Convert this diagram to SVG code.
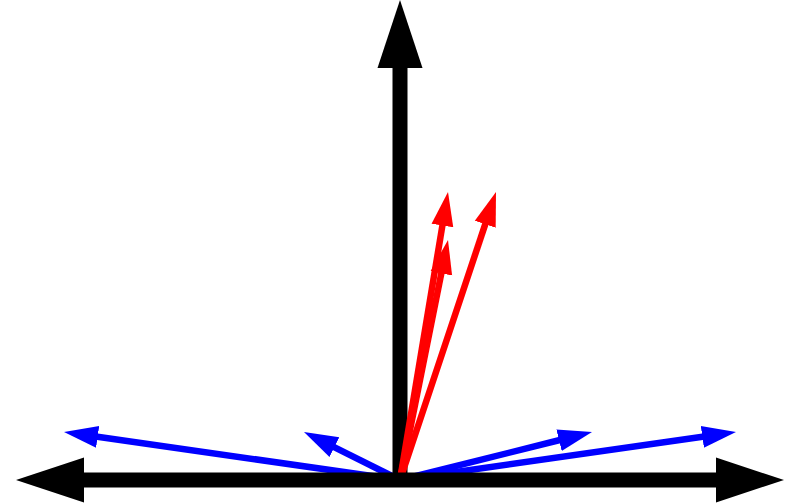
<svg xmlns="http://www.w3.org/2000/svg" width="792" height="504" viewBox="0 0 792 504">
  <defs>
    <style>
      .axis { stroke: #000; stroke-width: 15; fill: none; }
      .axhead { fill: #000; }
      .blue { stroke: #0000ff; stroke-width: 6.5; fill: none; marker-end: url(#bh); }
      .red { stroke: #ff0000; stroke-width: 6.5; fill: none; marker-end: url(#rh); }
    </style>
    <marker id="bh" markerUnits="userSpaceOnUse" markerWidth="40" markerHeight="30" viewBox="0 -15 40 30" refX="2" refY="0" orient="auto">
      <path d="M0,-11 L34,0 L0,11 Z" fill="#0000ff"/>
    </marker>
    <marker id="rh" markerUnits="userSpaceOnUse" markerWidth="40" markerHeight="30" viewBox="0 -15 40 30" refX="2" refY="0" orient="auto">
      <path d="M0,-11 L34,0 L0,11 Z" fill="#ff0000"/>
    </marker>
  </defs>
  <rect width="792" height="504" fill="#fff"/>
  <g id="y-axis">
    <line class="axis" x1="400" y1="480" x2="400" y2="64"/>
    <polygon class="axhead" points="377.5,68 400,0 422.5,68"/>
  </g>
  <g id="vectors">
    <line class="blue" x1="400" y1="480" x2="95.68" y2="436.53"/>
    <line class="blue" x1="400" y1="480" x2="332.62" y2="446.31"/>
    <line class="blue" x1="400" y1="480" x2="560.96" y2="439.76"/>
    <line class="blue" x1="400" y1="480" x2="704.32" y2="436.53"/>
    <line class="red" x1="400" y1="480" x2="442.74" y2="223.56"/>
    <line class="red" x1="400" y1="480" x2="485.88" y2="222.36"/>
    <line class="red" x1="400" y1="480" x2="441.72" y2="271.38"/>
  </g>
  <g id="x-axis">
    <line class="axis" x1="80" y1="480" x2="720" y2="480"/>
    <polygon class="axhead" points="84,457.5 16,480 84,502.5"/>
    <polygon class="axhead" points="716,457.5 784,480 716,502.5"/>
  </g>
</svg>
